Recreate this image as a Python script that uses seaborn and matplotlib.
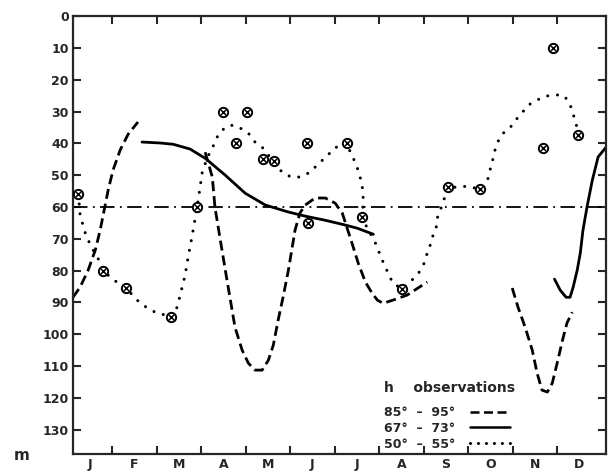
import numpy as np
import pandas as pd
import matplotlib
matplotlib.use("Agg")
import matplotlib.pyplot as plt
from matplotlib.lines import Line2D
import seaborn as sns

# month axis: 0 = start of January, 12 = end of December
months = ["J", "F", "M", "A", "M", "J", "J", "A", "S", "O", "N", "D"]
depth_ticks = list(range(0, 140, 10))

# h 85-95 deg (dashed), three separate pieces
dash1_x = [0.12, 0.28, 0.46, 0.62, 0.73, 0.82, 0.91, 1.02, 1.18, 1.36, 1.58]
dash1_y = [88.4, 85.2, 79.9, 73.6, 67.3, 61.0, 54.7, 48.4, 42.1, 37.1, 33.3]
dash2_x = [3.09, 3.25, 3.31, 3.43, 3.58, 3.76, 3.92, 4.06, 4.21, 4.37, 4.51, 4.62,
           4.73, 4.84, 4.96, 5.11, 5.22, 5.34, 5.56, 5.79, 6.01, 6.17, 6.39, 6.53,
           6.69, 6.84, 6.96, 7.09, 7.31, 7.63, 8.08]
dash2_y = [42.8, 50.6, 60.1, 70.4, 83.0, 97.8, 105.0, 109.1, 111.3, 111.3, 108.2, 103.5,
           95.6, 88.4, 79.9, 67.3, 61.9, 59.4, 57.2, 57.2, 58.8, 61.9, 71.4, 77.7,
           83.6, 87.1, 89.3, 90.3, 89.3, 87.7, 83.6]
dash3_x = [9.99, 10.12, 10.28, 10.44, 10.55, 10.66, 10.78, 10.89, 11.00, 11.12, 11.22, 11.34]
dash3_y = [85.5, 91.5, 97.8, 105.0, 112.3, 117.6, 118.2, 115.4, 109.1, 101.9, 96.5, 93.1]

# h 67-73 deg (solid)
solid1_x = [1.67, 2.08, 2.37, 2.75, 3.09, 3.54, 3.99, 4.44, 4.96, 5.34, 5.79, 6.24, 6.51, 6.87]
solid1_y = [39.6, 39.9, 40.3, 41.8, 44.7, 50.0, 55.7, 59.4, 61.6, 62.9, 64.2, 65.7, 66.7, 68.6]
solid2_x = [10.94, 11.07, 11.20, 11.29, 11.36, 11.45, 11.52, 11.58, 11.67, 11.79, 11.92, 12.10]
solid2_y = [82.7, 86.2, 88.4, 88.4, 85.2, 79.9, 74.5, 67.3, 60.1, 51.6, 44.3, 41.2]

# h 50-55 deg (dotted)
dot_x = [0.24, 0.28, 0.39, 0.51, 0.73, 0.80, 1.07, 1.31, 1.56, 1.79, 2.01, 2.21, 2.33,
         2.46, 2.55, 2.64, 2.71, 2.78, 2.87, 2.91, 2.96, 3.02, 3.13, 3.25, 3.40, 3.58,
         3.72, 3.92, 4.06, 4.21, 4.37, 4.51, 4.82, 5.02, 5.22, 5.45, 5.63, 5.83, 5.99,
         6.28, 6.35, 6.46, 6.55, 6.60, 6.64, 6.64, 6.62, 6.71, 6.87, 6.96, 7.02, 7.11,
         7.22, 7.31, 7.52, 7.65, 7.76, 7.90, 7.99, 8.06, 8.08, 8.17, 8.21, 8.28, 8.30,
         8.35, 8.42, 8.48, 8.53, 8.78, 8.96, 9.27, 9.43, 9.47, 9.54, 9.56, 9.61, 9.70,
         9.79, 9.97, 10.12, 10.24, 10.35, 10.55, 10.73, 10.94, 11.12, 11.24, 11.31,
         11.36, 11.40, 11.45, 11.47]
dot_y = [56.0, 62.6, 68.0, 72.0, 77.4, 80.2, 83.3, 85.5, 89.3, 91.8, 93.4, 94.0, 94.7,
         91.5, 86.5, 81.4, 75.5, 70.4, 63.2, 60.1, 55.3, 49.4, 44.7, 41.5, 36.8, 34.6,
         34.3, 35.5, 36.8, 39.6, 41.2, 43.7, 49.1, 50.6, 50.6, 49.1, 46.5, 44.0, 41.5,
         39.9, 42.8, 45.9, 49.4, 52.2, 55.3, 58.5, 63.2, 66.0, 70.1, 72.6, 75.2, 78.0,
         81.4, 84.0, 85.8, 84.0, 82.7, 80.5, 78.3, 76.1, 73.9, 71.4, 68.9, 66.7, 63.8,
         61.6, 59.4, 56.6, 53.8, 53.8, 53.5, 54.4, 52.2, 49.1, 46.5, 44.3, 41.8, 38.4,
         36.8, 34.6, 31.8, 29.9, 28.0, 26.4, 25.2, 24.8, 24.8, 26.4, 28.6,
         30.8, 32.7, 35.2, 37.1]

# observations (circled crosses)
obs_x = [0.24, 0.80, 1.31, 2.33, 2.91, 3.50, 4.03, 3.79, 4.40, 4.64,
         5.38, 5.41, 6.28, 6.62, 7.52, 8.55, 9.27, 10.69, 10.91, 11.47]
obs_y = [56.0, 80.2, 85.5, 94.7, 60.1, 30.2, 30.2, 40.0, 45.0, 45.6,
         40.0, 65.1, 39.9, 63.2, 85.8, 53.8, 54.4, 41.5, 10.1, 37.3]

ref_depth = 60

legend_labels = ["85°  –  95°", "67°  –  73°", "50°  –  55°"]

sns.set_style("ticks")
plt.rcParams["font.family"] = ["DejaVu Sans"]
plt.rcParams["font.weight"] = "bold"

fig, ax = plt.subplots(figsize=(6.11, 4.73), dpi=100)
fig.subplots_adjust(left=0.1195, right=0.992, top=0.966, bottom=0.040)

DASHED = (0, (3.6, 1.8))
DOTTED = (0, (0.01, 3.2))
DASHDOT = (0, (8, 3, 1, 3))

ax.axhline(ref_depth, color="black", lw=1.3, linestyle=DASHDOT, zorder=1)

for xs, ys in [(dash1_x, dash1_y), (dash2_x, dash2_y), (dash3_x, dash3_y)]:
    sns.lineplot(x=xs, y=ys, sort=False, estimator=None, color="black",
                 lw=2.0, linestyle=DASHED, ax=ax)

for xs, ys in [(solid1_x, solid1_y), (solid2_x, solid2_y)]:
    sns.lineplot(x=xs, y=ys, sort=False, estimator=None, color="black",
                 lw=2.0, ax=ax)

sns.lineplot(x=dot_x, y=dot_y, sort=False, estimator=None, color="black",
             lw=2.2, linestyle=DOTTED, dash_capstyle="round", ax=ax)

sns.scatterplot(x=obs_x, y=obs_y, marker="o", s=45, facecolor="white",
                edgecolor="black", linewidth=1.4, zorder=5, ax=ax)
sns.scatterplot(x=obs_x, y=obs_y, marker="x", s=14, color="black",
                linewidth=1.1, zorder=6, ax=ax)

ax.set_xlim(0.12, 12.1)
ax.set_ylim(137.7, 0)

ax.set_xticks(range(1, 12))
ax.set_xticklabels([])
ax.set_xticks(np.arange(12) + 0.5, minor=True)
ax.set_xticklabels(months, minor=True, fontsize=9, fontweight="bold")
ax.tick_params(axis="x", which="minor", length=0, pad=3)
ax.set_yticks(depth_ticks)
ax.set_yticklabels([str(v) for v in depth_ticks], fontsize=9, fontweight="bold")
ax.tick_params(which="major", direction="in", top=True, right=True,
               length=6, width=1.5, pad=3)
for sp in ax.spines.values():
    sp.set_linewidth(1.6)

handles = [
    Line2D([], [], color="black", lw=1.8, linestyle=DASHED),
    Line2D([], [], color="black", lw=1.8),
    Line2D([], [], color="black", lw=2.2, linestyle=(0, (0.01, 2.6)), dash_capstyle="round"),
]
leg = ax.legend(handles, legend_labels, title="h    observations", loc="upper left",
                bbox_to_anchor=(0.569, 0.184), frameon=False, markerfirst=False,
                fontsize=9, title_fontsize=10, handlelength=3.2,
                handletextpad=1.2, labelspacing=0.22, borderpad=0.1,
                alignment="left")
for t in leg.get_texts():
    t.set_fontweight("bold")
leg.get_title().set_fontweight("bold")
# a bit more room between the title and the entries
leg._legend_box.sep = 8

fig.text(22 / 611, 1 - 455 / 473, "m", fontsize=11, fontweight="bold",
         ha="center", va="center")

fig.savefig("out.png", dpi=100)
